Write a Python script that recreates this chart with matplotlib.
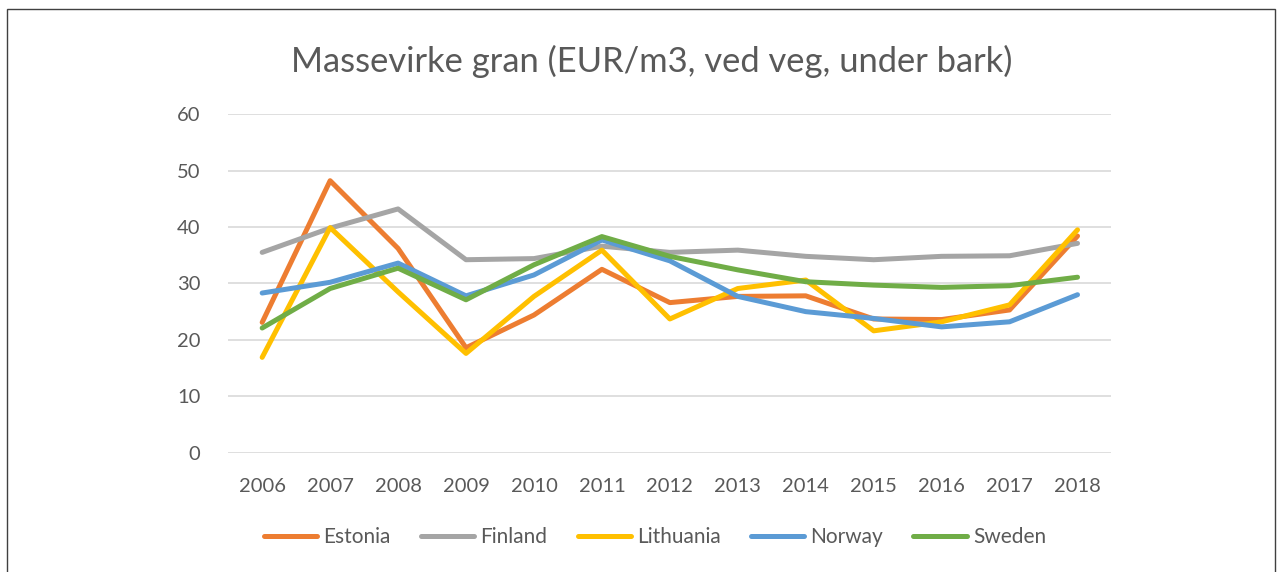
import matplotlib
matplotlib.use('Agg')
import matplotlib.pyplot as plt
from matplotlib.patches import Rectangle

# Font settings, close to the Calibri look of the original
plt.rcParams['font.family'] = ['Lato', 'DejaVu Sans']

years = ['2006', '2007', '2008', '2009', '2010', '2011', '2012',
         '2013', '2014', '2015', '2016', '2017', '2018']

estonia = [23.1, 48.2, 36.2, 18.6, 24.4, 32.5, 26.6, 27.7, 27.8, 23.7, 23.6, 25.3, 38.4]
finland = [35.5, 39.8, 43.2, 34.2, 34.4, 36.6, 35.5, 35.9, 34.8, 34.2, 34.8, 34.9, 37.1]
lithuania = [16.9, 39.9, 28.5, 17.6, 27.7, 35.9, 23.7, 29.1, 30.6, 21.6, 23.2, 26.2, 39.5]
norway = [28.3, 30.2, 33.6, 27.8, 31.5, 37.7, 34.0, 27.7, 25.0, 23.8, 22.3, 23.2, 28.0]
sweden = [22.1, 29.1, 32.7, 27.1, 33.3, 38.3, 34.8, 32.4, 30.3, 29.7, 29.3, 29.6, 31.1]

series = [('Estonia', estonia, '#ED7D31'),
          ('Finland', finland, '#A5A5A5'),
          ('Lithuania', lithuania, '#FFC000'),
          ('Norway', norway, '#5B9BD5'),
          ('Sweden', sweden, '#70AD47')]

txt = '#595959'

fig = plt.figure(figsize=(12.82, 5.72), dpi=100)
ax = fig.add_axes([0.178, 0.2085, 0.689, 0.592])

x = range(len(years))
for name, vals, col in series:
	ax.plot(x, vals, color=col, linewidth=3.6, label=name, solid_capstyle='round')

ax.set_xlim(-0.5, len(years) - 0.5)
ax.set_ylim(0, 60)
ax.set_yticks(range(0, 61, 10))
ax.set_xticks(list(x))
ax.set_xticklabels(years)
ax.grid(axis='y', color='#D9D9D9', linewidth=1.2)
ax.set_axisbelow(True)
for s in ax.spines.values():
	s.set_visible(False)
ax.tick_params(axis='both', length=0, labelsize=14.5, labelcolor=txt)
ax.tick_params(axis='y', pad=20)
ax.tick_params(axis='x', pad=18)

fig.text(0.508, 0.892, 'Massevirke gran (EUR/m3, ved veg, under bark)',
	ha='center', va='center', fontsize=24.8, color=txt)

fig.legend(loc='center', bbox_to_anchor=(0.511, 0.061), ncol=5, frameon=False,
	fontsize=15, handlelength=2.55, handletextpad=0.3, columnspacing=1.45,
	labelcolor=txt)

# thin border round the chart area
fig.patches.append(Rectangle((7 / 1282, -0.1), 1268 / 1282, 1.1 - 9 / 572,
	transform=fig.transFigure, fill=False, edgecolor='#404040', linewidth=1.0))

fig.savefig('out.png', dpi=100)
